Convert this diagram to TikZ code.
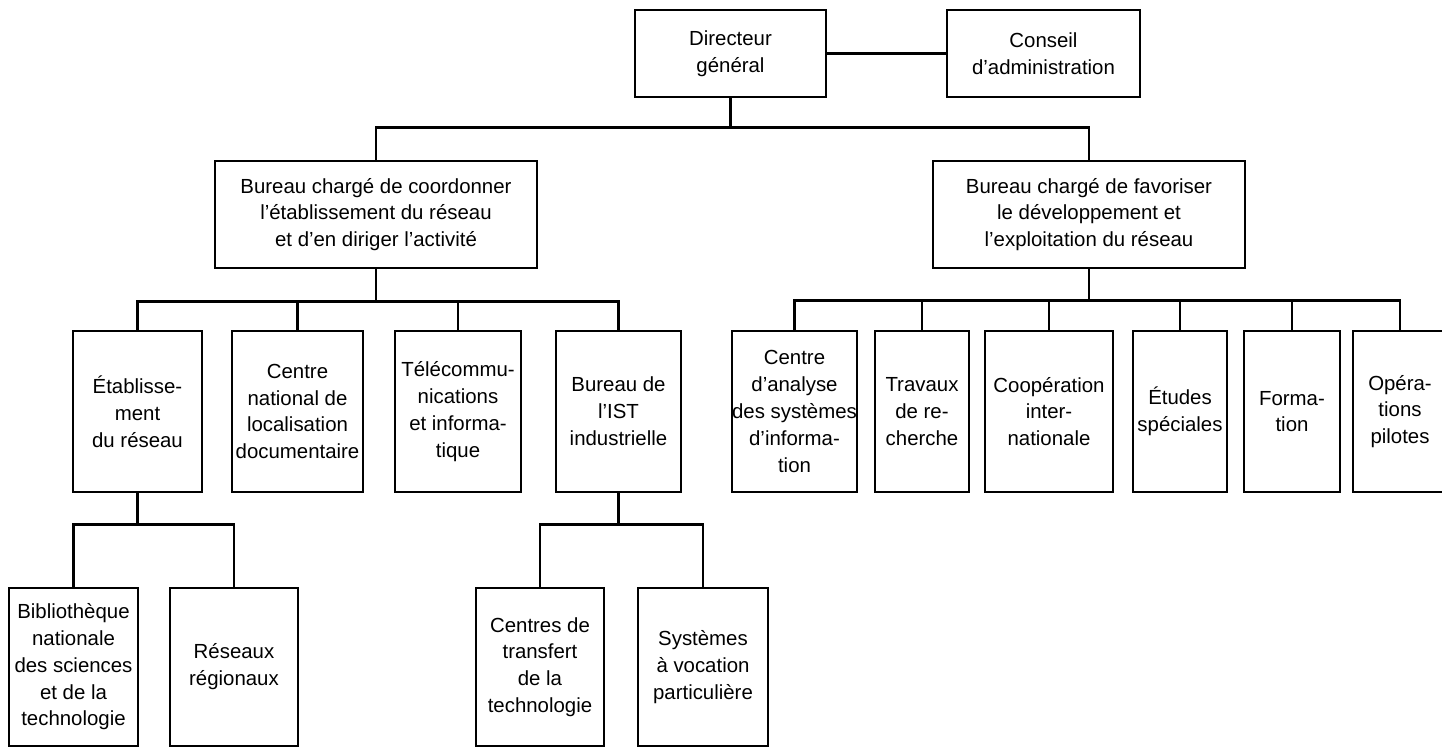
\documentclass[tikz,border=0pt]{standalone}
\usepackage{fontspec}
\setmainfont{Liberation Sans}

\begin{document}
\begin{tikzpicture}[x=0.5pt, y=-0.5pt, font=\fontsize{10.2}{13.4}\selectfont,
  case/.style 2 args={draw, line width=0.75pt, align=center, inner sep=0pt,
    minimum width=#1*0.5pt, minimum height=#2*0.5pt},
  lien/.style={line width=1.3pt}]

\useasboundingbox (0,0) rectangle (1442,749);
\clip (0,0) rectangle (1442,749);

% direction
\node[case={191}{87}] (dg) at (730.5,53.5) {Directeur\\général};
\node[case={193}{87}] (ca) at (1043.5,53.5) {Conseil\\d’administration};

% bureaux
\node[case={322}{107}] (bc) at (376,214.5) {Bureau chargé de coordonner\\l’établissement du réseau\\et d’en diriger l’activité};
\node[case={312}{107}] (bf) at (1089,214.5) {Bureau chargé de favoriser\\le développement et\\l’exploitation du réseau};

% services (gauche)
\node[case={129}{161}] (etab) at (137.5,411.5) {Établisse-\\ment\\du réseau};
\node[case={131}{161}] (cnld) at (297.5,411.5) {Centre\\national de\\localisation\\documentaire};
\node[case={126}{161}] (tele) at (458,411.5) {Télécommu-\\nications\\et informa-\\tique};
\node[case={125}{161}] (ist) at (618.5,411.5) {Bureau de\\l’IST\\industrielle};

% services (droite)
\node[case={125}{161}] (cas) at (794.5,411.5) {Centre\\d’analyse\\des systèmes\\d’informa-\\tion};
\node[case={94}{161}] (trav) at (922,411.5) {Travaux\\de re-\\cherche};
\node[case={128}{161}] (coop) at (1049,411.5) {Coopération\\inter-\\nationale};
\node[case={94}{161}] (etud) at (1180,411.5) {Études\\spéciales};
\node[case={96}{161}] (form) at (1292,411.5) {Forma-\\tion};
\node[case={94}{161}] (oper) at (1400,411.5) {Opéra-\\tions\\pilotes};

% niveau inferieur
\node[case={129}{158}] (bib) at (73.5,667) {Bibliothèque\\nationale\\des sciences\\et de la\\technologie};
\node[case={128}{158}] (reg) at (234,667) {Réseaux\\régionaux};
\node[case={128}{158}] (ctt) at (540,667) {Centres de\\transfert\\de la\\technologie};
\node[case={130}{158}] (svp) at (703,667) {Systèmes\\à vocation\\particulière};

% liaisons
\draw[lien] (dg) -- (ca);
\foreach \c in {bc,bf}
  \draw[lien] (dg.south) -- ++(0,30) -| (\c.north);
\foreach \c in {etab,cnld,tele,ist}
  \draw[lien] (bc.south) -- ++(0,33) -| (\c.north);
\foreach \c in {cas,trav,coop,etud,form,oper}
  \draw[lien] (bf.south) -- ++(0,32) -| (\c.north);
\foreach \c in {bib,reg}
  \draw[lien] (etab.south) -- ++(0,32) -| (\c.north);
\foreach \c in {ctt,svp}
  \draw[lien] (ist.south) -- ++(0,32) -| (\c.north);

\end{tikzpicture}
\end{document}
